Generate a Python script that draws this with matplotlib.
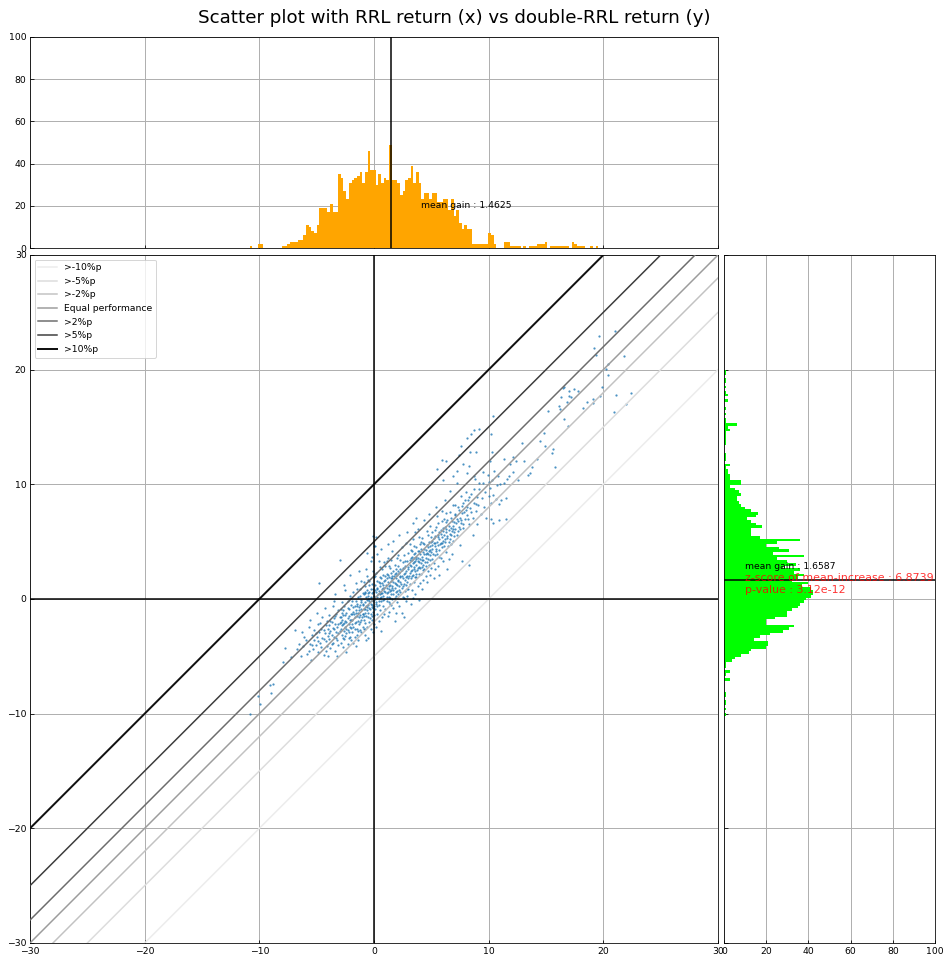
import numpy as np
import matplotlib
matplotlib.use("Agg")
import matplotlib.pyplot as plt

# summary numbers printed on the chart
mean_x = 1.4625
mean_y = 1.6587
z_score = 6.8739
p_value = 3.12e-12

# histogram of RRL return (x), fixed-width bins from x_bin_start upwards
bin_width = 0.234
x_bin_start = -10.85
x_counts = [1, 0, 0, 2, 2, 0, 0, 0, 0, 0, 0, 0, 1, 1, 2, 3, 3, 3, 4, 4,
            6, 11, 10, 8, 7, 11, 19, 19, 19, 17, 21, 17, 17, 35, 33, 27, 23, 31, 32, 33,
            34, 36, 31, 36, 46, 37, 37, 30, 35, 31, 33, 32, 49, 32, 32, 31, 25, 27, 32, 33,
            39, 31, 36, 31, 23, 26, 26, 23, 26, 26, 22, 22, 23, 23, 18, 23, 15, 18, 12, 9,
            11, 9, 9, 2, 2, 2, 2, 2, 2, 7, 6, 2, 0, 0, 0, 3, 3, 1, 1, 1,
            1, 0, 1, 0, 1, 1, 1, 2, 2, 2, 3, 0, 1, 1, 1, 1, 1, 1, 1, 0,
            3, 2, 1, 1, 1, 0, 0, 1, 0, 1]

# histogram of double-RRL return (y), bins listed from y_bin_top downwards
y_bin_top = 20.0
y_counts = [1, 1, 0, 1, 1, 0, 1, 0, 1, 2, 0, 2, 0, 0, 1, 0, 1, 0, 1, 1,
            6, 2, 3, 1, 1, 1, 1, 1, 0, 0, 0, 1, 1, 1, 0, 3, 1, 2, 2, 3,
            3, 8, 8, 3, 5, 7, 8, 6, 6, 7, 8, 10, 13, 16, 15, 11, 13, 15, 18, 13,
            13, 13, 17, 36, 25, 20, 26, 31, 23, 38, 25, 30, 34, 28, 36, 33, 38, 35, 32, 40,
            37, 41, 42, 42, 41, 39, 38, 36, 35, 32, 30, 30, 24, 20, 20, 33, 31, 28, 22, 17,
            14, 21, 21, 20, 13, 12, 8, 5, 4, 1, 1, 0, 3, 1, 0, 3, 0, 0, 0, 0,
            1, 1, 0, 1, 1, 0, 1, 0, 1]

# (RRL return, double-RRL return) pairs
pts_low = [
    (-10.8, -10.0), (-10.1, -8.5), (-9.9, -9.2), (-9.1, -7.5), (-8.8, -7.4), (-9.0, -8.2), (-7.9, -5.5),
    (-7.8, -4.3), (-7.2, -5.1), (-6.9, -2.7), (-6.7, -4.4), (-6.5, -3.9), (-6.4, -5.0), (-6.3, -2.9),
    (-6.2, -4.1), (-6.1, -3.3),
    (-5.9, -3.6), (-5.8, -4.8), (-5.7, -2.4), (-5.6, -1.8), (-5.6, -3.9), (-5.5, -5.3), (-5.4, -3.1),
    (-5.3, -4.4), (-5.2, -2.7), (-5.2, -3.6), (-5.1, -4.0), (-5.0, -1.2), (-5.0, -3.3),
    (-4.9, -4.6), (-4.8, 1.4), (-4.8, -2.9), (-4.7, -3.8), (-4.7, -2.1), (-4.6, -4.2), (-4.5, -3.4),
    (-4.5, -1.6), (-4.4, -2.7), (-4.4, -4.9), (-4.3, -3.0), (-4.3, -0.8), (-4.2, -3.7), (-4.2, -2.3),
    (-4.1, -1.9), (-4.1, -4.1), (-4.0, -3.2), (-4.0, -2.6), (-4.0, -5.0), (-4.9, -2.2),
    (-3.9, -1.4), (-3.9, -3.5), (-3.8, -2.8), (-3.8, -4.3), (-3.7, -2.0), (-3.7, -3.1), (-3.6, -0.6),
    (-3.6, -2.5), (-3.6, -3.8), (-3.5, -1.7), (-3.5, -3.3), (-3.4, -2.2), (-3.4, -4.5), (-3.4, 0.4),
    (-3.3, -2.9), (-3.3, -1.3), (-3.2, -3.6), (-3.2, -2.4), (-3.1, -1.0), (-3.1, -3.0), (-3.1, -4.0),
    (-3.0, -2.1), (-3.0, 3.4), (-3.0, -1.6), (-3.9, -2.3), (-3.5, -0.2), (-3.2, -5.0),
    (-2.9, -2.6), (-2.9, -0.9), (-2.9, -3.8), (-2.8, -1.8), (-2.8, -3.1), (-2.8, -0.3), (-2.7, -2.2),
    (-2.7, -4.2), (-2.7, -1.4), (-2.6, -2.8), (-2.6, -0.6), (-2.6, -3.5), (-2.5, -1.9), (-2.5, -2.4),
    (-2.5, 0.8), (-2.4, -1.2), (-2.4, -3.0), (-2.4, -2.0), (-2.3, -0.2), (-2.3, -2.7), (-2.3, -3.9),
    (-2.2, -1.5), (-2.2, -2.2), (-2.2, -0.9), (-2.1, -3.3), (-2.1, -1.8), (-2.1, 2.1), (-2.0, -2.5),
    (-2.0, -0.5), (-2.0, -1.3), (-2.9, -1.6), (-2.6, 1.2), (-2.4, -4.6), (-2.8, -2.3), (-2.5, -3.2),
    (-2.2, -2.9), (-2.1, 0.3), (-2.7, -1.0), (-2.3, -1.7), (-2.0, -3.6),
    (-1.9, -1.8), (-1.9, -0.2), (-1.9, -2.9), (-1.8, -1.1), (-1.8, -2.4), (-1.8, 0.6), (-1.7, -1.6),
    (-1.7, -3.3), (-1.7, -0.6), (-1.6, -2.0), (-1.6, -1.2), (-1.6, 1.4), (-1.5, -2.6), (-1.5, -0.4),
    (-1.5, -1.5), (-1.4, -1.9), (-1.4, 0.2), (-1.4, -3.6), (-1.3, -1.0), (-1.3, -2.2), (-1.3, -0.7),
    (-1.2, -1.4), (-1.2, 0.9), (-1.2, -2.7), (-1.1, -0.9), (-1.1, -1.8), (-1.1, -0.1), (-1.0, -1.3),
    (-1.0, -2.4), (-1.0, 0.5), (-1.9, -1.3), (-1.7, -2.1), (-1.5, 0.9), (-1.4, -1.2), (-1.3, 2.4),
    (-1.2, -0.5), (-1.1, -2.9), (-1.0, -0.4), (-1.6, -4.1), (-1.8, -3.8), (-1.4, -2.8), (-1.1, 1.6),
    (-1.5, -3.1),
    (-0.9, -0.9), (-0.9, 0.4), (-0.9, -1.8), (-0.9, -2.6), (-0.8, -0.3), (-0.8, -1.2), (-0.8, 1.1),
    (-0.8, -2.1), (-0.7, -0.6), (-0.7, 0.2), (-0.7, -1.5), (-0.7, 2.6), (-0.6, -0.1), (-0.6, -1.0),
    (-0.6, -2.4), (-0.6, 0.8), (-0.5, -0.5), (-0.5, -1.6), (-0.5, 0.3), (-0.5, 1.7), (-0.4, -0.8),
    (-0.4, -0.2), (-0.4, -2.0), (-0.4, 0.6), (-0.3, -1.3), (-0.3, 0.1), (-0.3, -0.4), (-0.3, 3.3),
    (-0.2, -0.7), (-0.2, 0.5), (-0.2, -1.8), (-0.2, 1.3), (-0.1, -0.2), (-0.1, -1.1), (-0.1, 0.9),
    (-0.1, -2.9), (0.0, 0.3), (0.0, -0.6), (0.0, 1.9), (0.0, -1.4), (-0.9, 1.5), (-0.8, -3.1),
    (-0.6, 2.0), (-0.5, -3.4), (-0.4, 1.2), (-0.3, -2.6), (-0.2, -0.1), (-0.1, 2.4), (0.0, -2.2),
    (-0.7, -3.6), (-0.6, 4.0), (-0.2, 3.7), (-0.5, 0.0), (-0.3, 0.9), (-0.8, 0.5), (0.0, 4.6),
    (-0.1, 5.5),
]

pts_mid = [
    (0.1, 0.0), (0.1, 1.2), (0.1, -0.9), (0.2, 0.6), (0.2, -0.3), (0.2, 2.3), (0.3, 0.9), (0.3, -1.3),
    (0.3, 0.2), (0.4, 1.5), (0.4, -0.5), (0.4, 0.7), (0.5, 0.1), (0.5, 2.8), (0.5, -1.0), (0.5, 1.1),
    (0.6, 0.5), (0.6, 1.8), (0.6, -0.2), (0.7, 0.9), (0.7, -1.6), (0.7, 1.4), (0.8, 0.3), (0.8, 2.1),
    (0.8, -0.6), (0.9, 1.0), (0.9, 0.0), (0.9, 3.2), (1.0, 0.6), (1.0, 1.7), (1.0, -0.9), (0.1, 4.6),
    (0.2, 5.4), (0.3, 3.9), (0.4, -1.9), (0.6, 4.4), (0.7, 2.6), (0.8, 1.2), (0.9, -1.3), (1.0, 2.9),
    (0.3, 1.6), (0.5, 0.4), (0.2, -2.4), (0.6, -2.8), (0.8, -0.1), (0.4, 3.3), (0.9, 1.6), (0.1, 2.0),
    (1.1, 1.0), (1.1, -0.2), (1.1, 2.2), (1.2, 0.6), (1.2, 1.5), (1.2, 3.6), (1.3, 0.2), (1.3, 1.9),
    (1.3, -1.1), (1.4, 1.2), (1.4, 0.7), (1.4, 2.7), (1.5, 0.4), (1.5, 1.6), (1.5, -0.5), (1.6, 2.0),
    (1.6, 1.1), (1.6, 4.2), (1.7, 0.8), (1.7, 2.4), (1.7, -0.8), (1.8, 1.4), (1.8, 0.1), (1.8, 3.0),
    (1.9, 1.8), (1.9, 0.6), (1.9, 2.6), (2.0, 1.2), (2.0, -0.3), (2.0, 2.1), (1.1, 3.3), (1.2, -1.5),
    (1.3, 2.9), (1.4, -0.4), (1.5, 3.4), (1.6, 0.0), (1.7, 1.5), (1.8, 2.2), (1.9, -1.2), (2.0, 3.6),
    (1.2, 4.8), (1.5, 2.3), (1.7, 5.1), (1.9, 1.3), (1.4, 0.1), (1.6, 1.8), (1.8, -1.9), (1.1, 0.5),
    (1.3, 1.1), (2.0, 0.7),
    (2.1, 1.7), (2.1, 0.4), (2.1, 2.9), (2.2, 1.1), (2.2, 2.3), (2.2, -0.6), (2.3, 1.5), (2.3, 3.4),
    (2.3, 0.6), (2.4, 2.0), (2.4, 1.0), (2.4, 4.5), (2.5, 1.8), (2.5, 0.2), (2.5, 2.7), (2.6, 2.2),
    (2.6, 1.3), (2.6, 3.8), (2.7, 1.7), (2.7, 0.7), (2.7, 2.9), (2.8, 2.4), (2.8, 1.2), (2.8, -0.2),
    (2.9, 2.0), (2.9, 3.3), (2.9, 1.5), (3.0, 2.6), (3.0, 0.9), (3.0, 4.0), (2.2, 5.6), (2.4, -1.2),
    (2.6, 0.1), (2.8, 4.9), (2.9, 0.3), (2.1, 3.8), (2.5, 3.2), (2.7, 2.3), (2.3, 2.6), (2.6, -1.6),
    (2.9, 5.8), (3.0, 1.8),
    (3.1, 2.3), (3.1, 3.4), (3.1, 1.3), (3.2, 2.9), (3.2, 1.8), (3.2, 4.3), (3.3, 2.5), (3.3, 0.8),
    (3.3, 3.7), (3.4, 2.1), (3.4, 3.1), (3.4, 5.2), (3.5, 2.8), (3.5, 1.5), (3.5, 3.9), (3.6, 3.3),
    (3.6, 2.4), (3.6, 0.4), (3.7, 3.0), (3.7, 4.5), (3.7, 1.9), (3.8, 2.7), (3.8, 3.6), (3.8, 6.1),
    (3.9, 3.2), (3.9, 2.2), (3.9, 4.2), (4.0, 3.5), (4.0, 1.4), (4.0, 4.8), (3.2, -0.4), (3.4, 6.6),
    (3.5, 4.6), (3.6, 4.0), (3.8, 1.1), (3.9, 5.4), (3.1, 4.8), (3.3, 2.0), (3.5, 3.2), (3.7, 3.5),
    (4.0, 2.7), (3.6, 5.8), (3.8, 4.2), (3.2, 3.6), (3.4, 0.1), (3.9, -0.1), (3.7, 7.1),
    (4.1, 3.1), (4.1, 4.4), (4.1, 2.2), (4.2, 3.7), (4.2, 2.8), (4.2, 5.3), (4.3, 3.4), (4.3, 4.1),
    (4.3, 1.7), (4.4, 3.9), (4.4, 2.6), (4.4, 4.8), (4.5, 3.6), (4.5, 4.3), (4.5, 2.0), (4.6, 4.0),
    (4.6, 3.2), (4.6, 5.9), (4.7, 4.5), (4.7, 3.5), (4.7, 2.4), (4.8, 4.2), (4.8, 5.0), (4.8, 3.0),
    (4.9, 4.6), (4.9, 3.8), (4.9, 6.4), (5.0, 4.1), (5.0, 2.7), (5.0, 5.4), (4.2, 0.9), (4.4, 6.9),
    (4.6, 1.5), (4.8, 7.4), (4.3, 4.9), (4.7, 5.6), (4.9, 2.1),
]

pts_high = [
    (5.1, 4.4), (5.1, 3.5), (5.1, 5.8), (5.2, 4.9), (5.2, 3.1), (5.3, 4.6), (5.3, 5.5), (5.3, 2.6),
    (5.4, 4.2), (5.4, 6.3), (5.5, 5.0), (5.5, 3.9), (5.5, 7.2), (5.6, 4.7), (5.6, 5.6), (5.6, 2.9),
    (5.7, 5.2), (5.7, 4.3), (5.8, 6.0), (5.8, 3.6), (5.8, 4.9), (5.9, 5.4), (5.9, 4.5), (5.9, 7.7),
    (6.0, 5.1), (6.0, 3.3), (6.0, 6.2), (5.2, 1.8), (5.4, 8.0), (5.7, 2.1), (5.9, 6.8), (5.3, 3.8),
    (5.6, 6.6),
    (6.1, 5.6), (6.1, 4.6), (6.1, 7.0), (6.2, 5.2), (6.2, 6.3), (6.3, 4.1), (6.3, 5.8), (6.4, 5.3),
    (6.4, 6.9), (6.5, 5.0), (6.5, 6.0), (6.5, 3.5), (6.6, 5.7), (6.6, 7.6), (6.7, 6.2), (6.7, 4.8),
    (6.8, 5.9), (6.8, 6.8), (6.9, 6.4), (6.9, 5.1), (7.0, 6.7), (7.0, 5.5), (6.2, 8.6), (6.4, 2.6),
    (6.6, 9.4), (6.8, 3.9), (6.3, 7.5), (6.9, 8.2),
    (7.1, 6.1), (7.1, 7.3), (7.2, 5.6), (7.3, 6.8), (7.3, 8.0), (7.4, 6.3), (7.5, 7.1), (7.5, 4.7),
    (7.6, 6.6), (7.6, 9.0), (7.7, 7.5), (7.8, 6.2), (7.8, 8.4), (7.9, 7.0), (8.0, 7.8), (7.2, 10.1),
    (7.7, 3.3), (8.0, 9.3),
    (8.1, 7.3), (8.2, 8.6), (8.3, 6.5), (8.4, 7.9), (8.5, 9.2), (8.6, 7.1), (8.7, 8.4), (8.8, 10.5),
    (8.9, 7.7), (9.0, 8.9), (8.3, 11.6), (8.6, 5.6), (8.3, 3.0),
    (9.1, 8.2), (9.2, 9.6), (9.3, 7.4), (9.4, 8.8), (9.5, 10.1), (9.6, 8.0), (9.7, 9.3), (9.8, 7.1),
    (9.9, 10.8), (10.0, 9.0), (10.1, 9.7), (10.2, 8.4), (10.3, 10.4), (10.4, 9.1), (10.5, 11.2),
    (10.6, 8.7), (10.7, 9.9), (10.8, 10.7), (10.9, 8.3), (11.0, 10.0),
    (10.4, 16.0), (8.7, 14.7), (8.5, 14.4), (9.2, 14.8), (8.1, 14.0), (10.2, 14.4), (7.6, 13.3),
    (8.4, 12.8), (8.9, 12.8), (7.4, 12.6), (5.9, 12.1), (6.3, 12.0), (7.8, 11.8), (5.5, 11.3),
    (7.2, 11.2), (10.3, 12.8), (10.1, 12.0), (11.3, 12.2), (9.5, 11.1), (8.1, 11.0), (8.7, 10.7),
    (10.0, 10.2), (9.2, 10.1), (6.9, 10.7), (6.0, 10.4),
]

# extra points in the dense band between the -2%p and +2%p lines
pts_core = [
    (-5.7, -4.5), (-5.4, -4.0), (-5.1, -3.0), (-4.9, -3.7), (-4.6, -2.6), (-4.4, -3.5), (-4.2, -4.5),
    (-3.9, -3.0), (-3.8, -1.9), (-3.7, -3.9), (-3.5, -2.6), (-3.4, -1.5), (-3.3, -3.4), (-3.1, -2.2),
    (-3.0, -2.8), (-2.9, -2.0), (-2.8, -1.2), (-2.7, -3.4), (-2.6, -2.1), (-2.5, -1.4), (-2.4, -2.6),
    (-2.3, -0.8), (-2.2, -3.4), (-2.1, -2.4), (-2.0, -1.8),
    (-1.95, -2.2), (-1.85, -0.7), (-1.75, -1.3), (-1.65, -2.6), (-1.55, -1.0), (-1.45, -0.6),
    (-1.35, -1.6), (-1.25, -2.0), (-1.15, -0.3), (-1.05, -1.6), (-0.95, -0.5), (-0.85, -1.5),
    (-0.75, 0.6), (-0.65, -0.7), (-0.55, -1.2), (-0.45, 0.0), (-0.35, -0.9), (-0.25, 0.2),
    (-0.15, -0.5), (-0.05, 0.6), (-0.95, -1.3), (-0.75, -0.9), (-0.55, 0.5), (-0.35, -1.7),
    (-0.15, -1.5), (-1.6, -0.2), (-1.2, 0.3), (-0.8, -2.6), (-0.4, 1.6), (-0.1, -0.8),
    (0.05, 0.8), (0.15, -0.4), (0.25, 1.0), (0.35, 0.4), (0.45, -0.2), (0.55, 1.4), (0.65, 0.2),
    (0.75, 1.0), (0.85, 0.7), (0.95, 2.0), (1.05, 1.2), (1.15, 0.2), (1.25, 2.1), (1.35, 0.9),
    (1.45, 1.8), (1.55, 1.0), (1.65, 0.4), (1.75, 2.0), (1.85, 1.0), (1.95, 2.3), (2.05, 1.6),
    (2.15, 0.8), (2.25, 2.0), (2.35, 1.3), (2.45, 2.5), (2.55, 1.1), (2.65, 2.7), (2.75, 1.9),
    (2.85, 0.9), (2.95, 2.8), (0.3, -0.6), (0.7, 0.5), (1.1, 1.8), (1.5, 0.8), (1.9, 0.3),
    (2.3, 1.9), (2.7, 3.3), (0.5, 1.9), (1.3, -0.3), (2.1, 2.4),
    (3.05, 2.0), (3.15, 3.0), (3.25, 2.4), (3.35, 3.4), (3.45, 2.6), (3.55, 1.9), (3.65, 3.7),
    (3.75, 2.5), (3.85, 3.3), (3.95, 2.8), (4.05, 3.9), (4.15, 3.4), (4.25, 2.5), (4.35, 4.4),
    (4.45, 3.2), (4.55, 3.9), (4.65, 4.7), (4.75, 3.9), (4.85, 3.4), (4.95, 5.0), (5.05, 4.7),
    (5.15, 3.9), (5.25, 5.3), (5.35, 4.9), (5.45, 4.4), (5.55, 5.4), (5.65, 3.7), (5.75, 4.8),
    (5.85, 5.7), (5.95, 4.9), (3.3, 4.2), (3.7, 2.2), (4.1, 5.0), (4.5, 2.9), (4.9, 4.3),
    (5.3, 6.0), (5.7, 5.8), (3.5, 3.6), (4.3, 3.0), (5.1, 5.1),
    (6.05, 5.9), (6.15, 5.0), (6.25, 6.7), (6.35, 5.5), (6.45, 4.6), (6.55, 6.4), (6.65, 5.2),
    (6.75, 7.1), (6.85, 6.1), (6.95, 5.8), (7.05, 7.4), (7.15, 6.6), (7.25, 7.0), (7.35, 5.9),
    (7.45, 7.8), (7.55, 6.9), (7.65, 8.1), (7.75, 6.5), (7.85, 7.6), (7.95, 8.6), (8.1, 8.0),
    (8.3, 8.9), (8.5, 7.6), (8.7, 9.6), (8.9, 8.3), (6.3, 6.1), (6.7, 5.6), (7.1, 8.2), (7.5, 6.1),
    (8.2, 7.0),
]

pts_tail = [
    (21.0, 23.4), (19.6, 22.9), (19.2, 21.9), (19.4, 21.3), (21.8, 21.2), (20.4, 20.5), (20.2, 20.1),
    (20.4, 19.5), (16.5, 18.4), (17.0, 18.1), (17.4, 18.3), (17.8, 18.1), (19.9, 18.5), (17.0, 17.7),
    (17.2, 17.6), (16.8, 17.2), (19.7, 17.7), (21.1, 17.8), (22.4, 18.0), (18.6, 17.2), (19.1, 17.4),
    (19.1, 17.1), (18.2, 16.7), (16.1, 16.8), (16.2, 16.6), (15.2, 16.4), (22.0, 17.0), (20.9, 16.3),
    (16.6, 15.7), (16.9, 15.1), (14.8, 14.5), (15.6, 13.1), (15.5, 12.7), (12.9, 13.6), (13.6, 11.0),
    (13.4, 10.8), (12.1, 12.4), (12.4, 12.0), (11.9, 11.8), (12.1, 11.1), (11.8, 10.7), (11.6, 10.5),
    (11.3, 10.1), (11.5, 8.8), (11.1, 8.6), (11.5, 7.0), (10.9, 6.9), (10.2, 7.0), (10.4, 6.6),
    (9.0, 6.5), (15.8, 11.5), (16.6, 18.5), (13.8, 11.5), (14.9, 13.3), (16.3, 17.6), (12.6, 10.4),
    (13.1, 12.0), (14.2, 12.2), (14.5, 13.8),
]

# y = x + offset reference lines
line_offsets = [-10, -5, -2, 0, 2, 5, 10]
line_labels = [">-10%p", ">-5%p", ">-2%p", "Equal performance", ">2%p", ">5%p", ">10%p"]
line_colors = ["#ececec", "#dcdcdc", "#c2c2c2", "#9c9c9c", "#6c6c6c", "#3c3c3c", "#111111"]
line_widths = [1.5, 1.5, 1.5, 1.5, 1.5, 1.5, 2.0]


def scatter_with_hists():
    plt.rcParams['font.size'] = 9.2
    plt.rcParams['xtick.direction'] = 'in'
    plt.rcParams['ytick.direction'] = 'in'

    W, H = 946, 957
    fig = plt.figure(figsize=(W / 72, H / 72), dpi=72)

    ax = fig.add_axes([30 / W, 14 / H, 688 / W, 688 / H])
    ax_top = fig.add_axes([30 / W, 709 / H, 688 / W, 211 / H], sharex=ax)
    ax_right = fig.add_axes([724 / W, 14 / H, 211 / W, 688 / H], sharey=ax)

    fig.text(454 / W, 1 - 18 / H, "Scatter plot with RRL return (x) vs double-RRL return (y)",
             ha='center', va='center', fontsize=18.3)

    # main scatter
    pts = np.array(pts_low + pts_mid + pts_high + pts_core + pts_tail)
    ax.scatter(pts[:, 0], pts[:, 1], s=5, color='#1f77b4', alpha=0.8, linewidths=0, zorder=2)
    for off, lab, col, lw in zip(line_offsets, line_labels, line_colors, line_widths):
        ax.axline((0, off), slope=1, color=col, lw=lw, label=lab, zorder=3)
    ax.axhline(0, color='black', lw=1.5, zorder=3)
    ax.axvline(0, color='black', lw=1.5, zorder=3)
    ax.set_xlim(-30, 30)
    ax.set_ylim(-30, 30)
    ax.set_xticks(np.arange(-30, 31, 10))
    ax.set_yticks(np.arange(-30, 31, 10))
    ax.grid(True, color='#b0b0b0', lw=1)
    ax.set_axisbelow(True)
    ax.legend(loc='upper left', fontsize=9.2)

    # top histogram (x)
    x_left = x_bin_start + bin_width * np.arange(len(x_counts))
    ax_top.bar(x_left, x_counts, width=bin_width, align='edge', color='orange', lw=0, zorder=2)
    ax_top.axvline(mean_x, color='black', lw=1.5, zorder=3)
    ax_top.text(mean_x + 2.65, 20, "mean gain : %.4f" % mean_x, va='center', fontsize=9.2, zorder=4)
    ax_top.set_ylim(0, 100)
    ax_top.set_yticks(np.arange(0, 101, 20))
    ax_top.grid(True, color='#b0b0b0', lw=1)
    ax_top.set_axisbelow(True)
    ax_top.tick_params(labelbottom=False)

    # right histogram (y)
    y_bottom = y_bin_top - bin_width * (np.arange(len(y_counts)) + 1)
    ax_right.barh(y_bottom, y_counts, height=bin_width, align='edge', color='lime', lw=0, zorder=2)
    ax_right.axhline(mean_y, color='black', lw=1.5, zorder=3)
    ax_right.text(10, mean_y + 1.15, "mean gain : %.4f" % mean_y, va='center', fontsize=9.2, zorder=4)
    ax_right.text(10, mean_y + 0.17, "z-score of mean-increase : %.4f" % z_score,
                  va='center', fontsize=11, color='red', alpha=0.8, zorder=4)
    ax_right.text(10, mean_y - 0.88, "p-value : %.2e" % p_value,
                  va='center', fontsize=11, color='red', alpha=0.8, zorder=4)
    ax_right.set_xlim(0, 100)
    ax_right.set_xticks(np.arange(0, 101, 20))
    ax_right.grid(True, color='#b0b0b0', lw=1)
    ax_right.set_axisbelow(True)
    ax_right.tick_params(labelleft=False)

    fig.savefig("out.png", dpi=72)


if __name__ == '__main__':
    scatter_with_hists()
